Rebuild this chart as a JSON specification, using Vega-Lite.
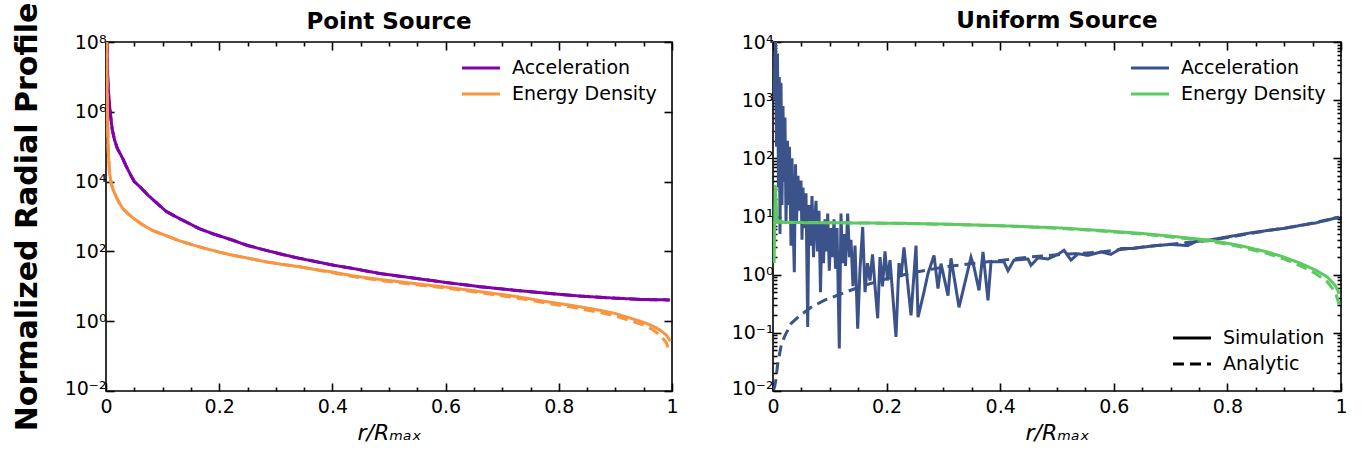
{
  "$schema": "https://vega.github.io/schema/vega-lite/v6.json",
  "padding": {"left": 11, "top": 1, "right": 6, "bottom": 2},
  "config": {
    "font": "DejaVu Sans",
    "view": {"stroke": "black", "strokeWidth": 1.6},
    "axis": {"domain": false, "grid": false, "tickColor": "black", "tickWidth": 1.6, "labelColor": "black", "labelFontSize": 19, "labelFont": "DejaVu Sans", "titleColor": "black", "titleFont": "DejaVu Sans", "labelOverlap": false, "labelFlush": false, "labelBound": false},
    "legend": {"labelFontSize": 19, "labelFont": "DejaVu Sans", "labelColor": "black", "symbolType": "stroke", "symbolSize": 1450, "symbolStrokeWidth": 2.8, "clipHeight": 22, "rowPadding": 4, "labelOffset": 10, "padding": 0},
    "title": {"fontSize": 23, "fontWeight": "bold", "color": "black", "font": "DejaVu Sans"},
    "line": {"strokeWidth": 3}
  },
  "datasets": {
    "left": [
      {"r":0.0015,"v":1e8,"q":"Acceleration","k":"Simulation"},
      {"r":0.003,"v":1e7,"q":"Acceleration","k":"Simulation"},
      {"r":0.005,"v":2.51e6,"q":"Acceleration","k":"Simulation"},
      {"r":0.008,"v":7.94e5,"q":"Acceleration","k":"Simulation"},
      {"r":0.011,"v":3.16e5,"q":"Acceleration","k":"Simulation"},
      {"r":0.015,"v":1.58e5,"q":"Acceleration","k":"Simulation"},
      {"r":0.02,"v":8.91e4,"q":"Acceleration","k":"Simulation"},
      {"r":0.029,"v":4.79e4,"q":"Acceleration","k":"Simulation"},
      {"r":0.035,"v":2.9e4,"q":"Acceleration","k":"Simulation"},
      {"r":0.04,"v":2.0e4,"q":"Acceleration","k":"Simulation"},
      {"r":0.045,"v":1.4e4,"q":"Acceleration","k":"Simulation"},
      {"r":0.05,"v":1.0e4,"q":"Acceleration","k":"Simulation"},
      {"r":0.06,"v":7079,"q":"Acceleration","k":"Simulation"},
      {"r":0.075,"v":3981,"q":"Acceleration","k":"Simulation"},
      {"r":0.09,"v":2399,"q":"Acceleration","k":"Simulation"},
      {"r":0.106,"v":1413,"q":"Acceleration","k":"Simulation"},
      {"r":0.125,"v":955,"q":"Acceleration","k":"Simulation"},
      {"r":0.147,"v":631,"q":"Acceleration","k":"Simulation"},
      {"r":0.165,"v":447,"q":"Acceleration","k":"Simulation"},
      {"r":0.19,"v":316,"q":"Acceleration","k":"Simulation"},
      {"r":0.224,"v":209,"q":"Acceleration","k":"Simulation"},
      {"r":0.25,"v":148,"q":"Acceleration","k":"Simulation"},
      {"r":0.283,"v":107,"q":"Acceleration","k":"Simulation"},
      {"r":0.31,"v":83.2,"q":"Acceleration","k":"Simulation"},
      {"r":0.342,"v":63.1,"q":"Acceleration","k":"Simulation"},
      {"r":0.37,"v":51.3,"q":"Acceleration","k":"Simulation"},
      {"r":0.4,"v":40.7,"q":"Acceleration","k":"Simulation"},
      {"r":0.44,"v":31.6,"q":"Acceleration","k":"Simulation"},
      {"r":0.483,"v":23.4,"q":"Acceleration","k":"Simulation"},
      {"r":0.519,"v":19.5,"q":"Acceleration","k":"Simulation"},
      {"r":0.56,"v":15.8,"q":"Acceleration","k":"Simulation"},
      {"r":0.6,"v":12.9,"q":"Acceleration","k":"Simulation"},
      {"r":0.66,"v":9.77,"q":"Acceleration","k":"Simulation"},
      {"r":0.72,"v":7.76,"q":"Acceleration","k":"Simulation"},
      {"r":0.78,"v":6.31,"q":"Acceleration","k":"Simulation"},
      {"r":0.837,"v":5.25,"q":"Acceleration","k":"Simulation"},
      {"r":0.9,"v":4.57,"q":"Acceleration","k":"Simulation"},
      {"r":0.95,"v":4.17,"q":"Acceleration","k":"Simulation"},
      {"r":0.996,"v":4.07,"q":"Acceleration","k":"Simulation"},
      {"r":0.0015,"v":1e8,"q":"Acceleration","k":"Analytic"},
      {"r":0.003,"v":1e7,"q":"Acceleration","k":"Analytic"},
      {"r":0.005,"v":2.51e6,"q":"Acceleration","k":"Analytic"},
      {"r":0.008,"v":7.94e5,"q":"Acceleration","k":"Analytic"},
      {"r":0.011,"v":3.16e5,"q":"Acceleration","k":"Analytic"},
      {"r":0.015,"v":1.58e5,"q":"Acceleration","k":"Analytic"},
      {"r":0.02,"v":8.91e4,"q":"Acceleration","k":"Analytic"},
      {"r":0.029,"v":4.79e4,"q":"Acceleration","k":"Analytic"},
      {"r":0.035,"v":2.9e4,"q":"Acceleration","k":"Analytic"},
      {"r":0.04,"v":2.0e4,"q":"Acceleration","k":"Analytic"},
      {"r":0.045,"v":1.4e4,"q":"Acceleration","k":"Analytic"},
      {"r":0.05,"v":1.0e4,"q":"Acceleration","k":"Analytic"},
      {"r":0.06,"v":7079,"q":"Acceleration","k":"Analytic"},
      {"r":0.075,"v":3981,"q":"Acceleration","k":"Analytic"},
      {"r":0.09,"v":2399,"q":"Acceleration","k":"Analytic"},
      {"r":0.106,"v":1413,"q":"Acceleration","k":"Analytic"},
      {"r":0.125,"v":955,"q":"Acceleration","k":"Analytic"},
      {"r":0.147,"v":631,"q":"Acceleration","k":"Analytic"},
      {"r":0.165,"v":447,"q":"Acceleration","k":"Analytic"},
      {"r":0.19,"v":316,"q":"Acceleration","k":"Analytic"},
      {"r":0.224,"v":209,"q":"Acceleration","k":"Analytic"},
      {"r":0.25,"v":148,"q":"Acceleration","k":"Analytic"},
      {"r":0.283,"v":107,"q":"Acceleration","k":"Analytic"},
      {"r":0.31,"v":83.2,"q":"Acceleration","k":"Analytic"},
      {"r":0.342,"v":63.1,"q":"Acceleration","k":"Analytic"},
      {"r":0.37,"v":51.3,"q":"Acceleration","k":"Analytic"},
      {"r":0.4,"v":40.7,"q":"Acceleration","k":"Analytic"},
      {"r":0.44,"v":31.6,"q":"Acceleration","k":"Analytic"},
      {"r":0.483,"v":23.4,"q":"Acceleration","k":"Analytic"},
      {"r":0.519,"v":19.5,"q":"Acceleration","k":"Analytic"},
      {"r":0.56,"v":15.8,"q":"Acceleration","k":"Analytic"},
      {"r":0.6,"v":12.9,"q":"Acceleration","k":"Analytic"},
      {"r":0.66,"v":9.77,"q":"Acceleration","k":"Analytic"},
      {"r":0.72,"v":7.76,"q":"Acceleration","k":"Analytic"},
      {"r":0.78,"v":6.31,"q":"Acceleration","k":"Analytic"},
      {"r":0.837,"v":5.25,"q":"Acceleration","k":"Analytic"},
      {"r":0.9,"v":4.57,"q":"Acceleration","k":"Analytic"},
      {"r":0.95,"v":4.17,"q":"Acceleration","k":"Analytic"},
      {"r":0.996,"v":4.07,"q":"Acceleration","k":"Analytic"},
      {"r":0.001,"v":1e8,"q":"Energy Density","k":"Simulation"},
      {"r":0.002,"v":3.16e6,"q":"Energy Density","k":"Simulation"},
      {"r":0.003,"v":3.16e5,"q":"Energy Density","k":"Simulation"},
      {"r":0.004,"v":7.94e4,"q":"Energy Density","k":"Simulation"},
      {"r":0.006,"v":2.0e4,"q":"Energy Density","k":"Simulation"},
      {"r":0.009,"v":8913,"q":"Energy Density","k":"Simulation"},
      {"r":0.013,"v":5623,"q":"Energy Density","k":"Simulation"},
      {"r":0.017,"v":3981,"q":"Energy Density","k":"Simulation"},
      {"r":0.023,"v":2512,"q":"Energy Density","k":"Simulation"},
      {"r":0.03,"v":1660,"q":"Energy Density","k":"Simulation"},
      {"r":0.041,"v":1122,"q":"Energy Density","k":"Simulation"},
      {"r":0.05,"v":851,"q":"Energy Density","k":"Simulation"},
      {"r":0.065,"v":575,"q":"Energy Density","k":"Simulation"},
      {"r":0.082,"v":398,"q":"Energy Density","k":"Simulation"},
      {"r":0.105,"v":288,"q":"Energy Density","k":"Simulation"},
      {"r":0.13,"v":200,"q":"Energy Density","k":"Simulation"},
      {"r":0.165,"v":135,"q":"Energy Density","k":"Simulation"},
      {"r":0.2,"v":95.5,"q":"Energy Density","k":"Simulation"},
      {"r":0.224,"v":77.6,"q":"Energy Density","k":"Simulation"},
      {"r":0.25,"v":64.6,"q":"Energy Density","k":"Simulation"},
      {"r":0.283,"v":50.1,"q":"Energy Density","k":"Simulation"},
      {"r":0.31,"v":42.7,"q":"Energy Density","k":"Simulation"},
      {"r":0.342,"v":36.3,"q":"Energy Density","k":"Simulation"},
      {"r":0.37,"v":30.2,"q":"Energy Density","k":"Simulation"},
      {"r":0.4,"v":25.7,"q":"Energy Density","k":"Simulation"},
      {"r":0.44,"v":19.5,"q":"Energy Density","k":"Simulation"},
      {"r":0.483,"v":15.8,"q":"Energy Density","k":"Simulation"},
      {"r":0.519,"v":13.5,"q":"Energy Density","k":"Simulation"},
      {"r":0.56,"v":11.2,"q":"Energy Density","k":"Simulation"},
      {"r":0.6,"v":9.55,"q":"Energy Density","k":"Simulation"},
      {"r":0.66,"v":7.08,"q":"Energy Density","k":"Simulation"},
      {"r":0.72,"v":5.25,"q":"Energy Density","k":"Simulation"},
      {"r":0.778,"v":3.63,"q":"Energy Density","k":"Simulation"},
      {"r":0.82,"v":2.88,"q":"Energy Density","k":"Simulation"},
      {"r":0.867,"v":2.14,"q":"Energy Density","k":"Simulation"},
      {"r":0.9,"v":1.66,"q":"Energy Density","k":"Simulation"},
      {"r":0.926,"v":1.23,"q":"Energy Density","k":"Simulation"},
      {"r":0.95,"v":0.93,"q":"Energy Density","k":"Simulation"},
      {"r":0.967,"v":0.71,"q":"Energy Density","k":"Simulation"},
      {"r":0.98,"v":0.54,"q":"Energy Density","k":"Simulation"},
      {"r":0.99,"v":0.40,"q":"Energy Density","k":"Simulation"},
      {"r":0.997,"v":0.27,"q":"Energy Density","k":"Simulation"},
      {"r":0.001,"v":1e8,"q":"Energy Density","k":"Analytic"},
      {"r":0.002,"v":3.16e6,"q":"Energy Density","k":"Analytic"},
      {"r":0.003,"v":3.16e5,"q":"Energy Density","k":"Analytic"},
      {"r":0.004,"v":7.94e4,"q":"Energy Density","k":"Analytic"},
      {"r":0.006,"v":2.0e4,"q":"Energy Density","k":"Analytic"},
      {"r":0.009,"v":8913,"q":"Energy Density","k":"Analytic"},
      {"r":0.013,"v":5623,"q":"Energy Density","k":"Analytic"},
      {"r":0.017,"v":3981,"q":"Energy Density","k":"Analytic"},
      {"r":0.023,"v":2512,"q":"Energy Density","k":"Analytic"},
      {"r":0.03,"v":1660,"q":"Energy Density","k":"Analytic"},
      {"r":0.041,"v":1122,"q":"Energy Density","k":"Analytic"},
      {"r":0.05,"v":851,"q":"Energy Density","k":"Analytic"},
      {"r":0.065,"v":575,"q":"Energy Density","k":"Analytic"},
      {"r":0.082,"v":398,"q":"Energy Density","k":"Analytic"},
      {"r":0.105,"v":288,"q":"Energy Density","k":"Analytic"},
      {"r":0.13,"v":200,"q":"Energy Density","k":"Analytic"},
      {"r":0.165,"v":135,"q":"Energy Density","k":"Analytic"},
      {"r":0.2,"v":95.5,"q":"Energy Density","k":"Analytic"},
      {"r":0.224,"v":77.6,"q":"Energy Density","k":"Analytic"},
      {"r":0.25,"v":64.6,"q":"Energy Density","k":"Analytic"},
      {"r":0.283,"v":50.1,"q":"Energy Density","k":"Analytic"},
      {"r":0.31,"v":42.7,"q":"Energy Density","k":"Analytic"},
      {"r":0.342,"v":36.3,"q":"Energy Density","k":"Analytic"},
      {"r":0.37,"v":30.2,"q":"Energy Density","k":"Analytic"},
      {"r":0.4,"v":24.5,"q":"Energy Density","k":"Analytic"},
      {"r":0.44,"v":18.6,"q":"Energy Density","k":"Analytic"},
      {"r":0.483,"v":14.8,"q":"Energy Density","k":"Analytic"},
      {"r":0.519,"v":12.6,"q":"Energy Density","k":"Analytic"},
      {"r":0.56,"v":10.5,"q":"Energy Density","k":"Analytic"},
      {"r":0.6,"v":8.91,"q":"Energy Density","k":"Analytic"},
      {"r":0.66,"v":6.61,"q":"Energy Density","k":"Analytic"},
      {"r":0.72,"v":4.79,"q":"Energy Density","k":"Analytic"},
      {"r":0.778,"v":3.31,"q":"Energy Density","k":"Analytic"},
      {"r":0.82,"v":2.57,"q":"Energy Density","k":"Analytic"},
      {"r":0.867,"v":1.86,"q":"Energy Density","k":"Analytic"},
      {"r":0.9,"v":1.41,"q":"Energy Density","k":"Analytic"},
      {"r":0.926,"v":1.05,"q":"Energy Density","k":"Analytic"},
      {"r":0.95,"v":0.78,"q":"Energy Density","k":"Analytic"},
      {"r":0.967,"v":0.56,"q":"Energy Density","k":"Analytic"},
      {"r":0.98,"v":0.38,"q":"Energy Density","k":"Analytic"},
      {"r":0.99,"v":0.24,"q":"Energy Density","k":"Analytic"},
      {"r":0.996,"v":0.126,"q":"Energy Density","k":"Analytic"}
    ],
    "right": [
      {"r":0.0018,"v":1000,"q":"Acceleration","k":"Simulation"},
      {"r":0.0044,"v":10000,"q":"Acceleration","k":"Simulation"},
      {"r":0.0062,"v":158,"q":"Acceleration","k":"Simulation"},
      {"r":0.0079,"v":6310,"q":"Acceleration","k":"Simulation"},
      {"r":0.0097,"v":31.6,"q":"Acceleration","k":"Simulation"},
      {"r":0.0111,"v":2512,"q":"Acceleration","k":"Simulation"},
      {"r":0.0123,"v":5.01,"q":"Acceleration","k":"Simulation"},
      {"r":0.0141,"v":1995,"q":"Acceleration","k":"Simulation"},
      {"r":0.0158,"v":15.8,"q":"Acceleration","k":"Simulation"},
      {"r":0.0176,"v":794,"q":"Acceleration","k":"Simulation"},
      {"r":0.0194,"v":39.8,"q":"Acceleration","k":"Simulation"},
      {"r":0.0211,"v":501,"q":"Acceleration","k":"Simulation"},
      {"r":0.0229,"v":7.94,"q":"Acceleration","k":"Simulation"},
      {"r":0.0255,"v":200,"q":"Acceleration","k":"Simulation"},
      {"r":0.0273,"v":15.8,"q":"Acceleration","k":"Simulation"},
      {"r":0.029,"v":158,"q":"Acceleration","k":"Simulation"},
      {"r":0.0317,"v":3.16,"q":"Acceleration","k":"Simulation"},
      {"r":0.0335,"v":100,"q":"Acceleration","k":"Simulation"},
      {"r":0.0352,"v":10,"q":"Acceleration","k":"Simulation"},
      {"r":0.0375,"v":1.1,"q":"Acceleration","k":"Simulation"},
      {"r":0.0396,"v":79.4,"q":"Acceleration","k":"Simulation"},
      {"r":0.0414,"v":7.94,"q":"Acceleration","k":"Simulation"},
      {"r":0.044,"v":50.1,"q":"Acceleration","k":"Simulation"},
      {"r":0.0458,"v":12.6,"q":"Acceleration","k":"Simulation"},
      {"r":0.0493,"v":41.7,"q":"Acceleration","k":"Simulation"},
      {"r":0.0511,"v":3.98,"q":"Acceleration","k":"Simulation"},
      {"r":0.0528,"v":31.6,"q":"Acceleration","k":"Simulation"},
      {"r":0.0555,"v":6.31,"q":"Acceleration","k":"Simulation"},
      {"r":0.0581,"v":25.1,"q":"Acceleration","k":"Simulation"},
      {"r":0.0611,"v":0.126,"q":"Acceleration","k":"Simulation"},
      {"r":0.0634,"v":15.8,"q":"Acceleration","k":"Simulation"},
      {"r":0.066,"v":3.16,"q":"Acceleration","k":"Simulation"},
      {"r":0.0687,"v":22.4,"q":"Acceleration","k":"Simulation"},
      {"r":0.0713,"v":2.0,"q":"Acceleration","k":"Simulation"},
      {"r":0.0739,"v":10,"q":"Acceleration","k":"Simulation"},
      {"r":0.0757,"v":18.6,"q":"Acceleration","k":"Simulation"},
      {"r":0.0783,"v":2.51,"q":"Acceleration","k":"Simulation"},
      {"r":0.081,"v":12.6,"q":"Acceleration","k":"Simulation"},
      {"r":0.0836,"v":0.501,"q":"Acceleration","k":"Simulation"},
      {"r":0.0863,"v":7.94,"q":"Acceleration","k":"Simulation"},
      {"r":0.0889,"v":1.58,"q":"Acceleration","k":"Simulation"},
      {"r":0.0915,"v":8.91,"q":"Acceleration","k":"Simulation"},
      {"r":0.0942,"v":2.51,"q":"Acceleration","k":"Simulation"},
      {"r":0.0963,"v":11.2,"q":"Acceleration","k":"Simulation"},
      {"r":0.0991,"v":1.17,"q":"Acceleration","k":"Simulation"},
      {"r":0.1021,"v":6.31,"q":"Acceleration","k":"Simulation"},
      {"r":0.1048,"v":2.0,"q":"Acceleration","k":"Simulation"},
      {"r":0.1074,"v":8.91,"q":"Acceleration","k":"Simulation"},
      {"r":0.11,"v":1.26,"q":"Acceleration","k":"Simulation"},
      {"r":0.1127,"v":6.31,"q":"Acceleration","k":"Simulation"},
      {"r":0.1167,"v":0.0537,"q":"Acceleration","k":"Simulation"},
      {"r":0.1197,"v":11.2,"q":"Acceleration","k":"Simulation"},
      {"r":0.1224,"v":1.58,"q":"Acceleration","k":"Simulation"},
      {"r":0.125,"v":5.01,"q":"Acceleration","k":"Simulation"},
      {"r":0.1276,"v":1.41,"q":"Acceleration","k":"Simulation"},
      {"r":0.1315,"v":11.2,"q":"Acceleration","k":"Simulation"},
      {"r":0.1347,"v":2.0,"q":"Acceleration","k":"Simulation"},
      {"r":0.1373,"v":3.98,"q":"Acceleration","k":"Simulation"},
      {"r":0.1408,"v":0.631,"q":"Acceleration","k":"Simulation"},
      {"r":0.1444,"v":3.16,"q":"Acceleration","k":"Simulation"},
      {"r":0.1491,"v":0.1175,"q":"Acceleration","k":"Simulation"},
      {"r":0.1532,"v":1.26,"q":"Acceleration","k":"Simulation"},
      {"r":0.1579,"v":6.61,"q":"Acceleration","k":"Simulation"},
      {"r":0.162,"v":0.501,"q":"Acceleration","k":"Simulation"},
      {"r":0.1664,"v":1.58,"q":"Acceleration","k":"Simulation"},
      {"r":0.1708,"v":0.794,"q":"Acceleration","k":"Simulation"},
      {"r":0.1752,"v":2.24,"q":"Acceleration","k":"Simulation"},
      {"r":0.1796,"v":0.631,"q":"Acceleration","k":"Simulation"},
      {"r":0.1843,"v":0.178,"q":"Acceleration","k":"Simulation"},
      {"r":0.1884,"v":2.0,"q":"Acceleration","k":"Simulation"},
      {"r":0.1928,"v":0.631,"q":"Acceleration","k":"Simulation"},
      {"r":0.1972,"v":2.51,"q":"Acceleration","k":"Simulation"},
      {"r":0.2016,"v":0.794,"q":"Acceleration","k":"Simulation"},
      {"r":0.206,"v":1.78,"q":"Acceleration","k":"Simulation"},
      {"r":0.2104,"v":0.501,"q":"Acceleration","k":"Simulation"},
      {"r":0.2165,"v":0.0851,"q":"Acceleration","k":"Simulation"},
      {"r":0.2218,"v":1.58,"q":"Acceleration","k":"Simulation"},
      {"r":0.2254,"v":0.912,"q":"Acceleration","k":"Simulation"},
      {"r":0.2306,"v":2.95,"q":"Acceleration","k":"Simulation"},
      {"r":0.243,"v":0.1995,"q":"Acceleration","k":"Simulation"},
      {"r":0.2518,"v":3.16,"q":"Acceleration","k":"Simulation"},
      {"r":0.2553,"v":0.186,"q":"Acceleration","k":"Simulation"},
      {"r":0.2658,"v":0.501,"q":"Acceleration","k":"Simulation"},
      {"r":0.2729,"v":1.05,"q":"Acceleration","k":"Simulation"},
      {"r":0.2835,"v":2.14,"q":"Acceleration","k":"Simulation"},
      {"r":0.2905,"v":0.575,"q":"Acceleration","k":"Simulation"},
      {"r":0.2958,"v":1.55,"q":"Acceleration","k":"Simulation"},
      {"r":0.3081,"v":0.437,"q":"Acceleration","k":"Simulation"},
      {"r":0.3134,"v":1.91,"q":"Acceleration","k":"Simulation"},
      {"r":0.3275,"v":0.275,"q":"Acceleration","k":"Simulation"},
      {"r":0.3486,"v":2.0,"q":"Acceleration","k":"Simulation"},
      {"r":0.3539,"v":1.35,"q":"Acceleration","k":"Simulation"},
      {"r":0.3627,"v":0.537,"q":"Acceleration","k":"Simulation"},
      {"r":0.3697,"v":2.46,"q":"Acceleration","k":"Simulation"},
      {"r":0.3785,"v":0.363,"q":"Acceleration","k":"Simulation"},
      {"r":0.3838,"v":1.66,"q":"Acceleration","k":"Simulation"},
      {"r":0.4067,"v":1.66,"q":"Acceleration","k":"Simulation"},
      {"r":0.4137,"v":1.17,"q":"Acceleration","k":"Simulation"},
      {"r":0.4243,"v":1.78,"q":"Acceleration","k":"Simulation"},
      {"r":0.4489,"v":1.86,"q":"Acceleration","k":"Simulation"},
      {"r":0.4542,"v":1.45,"q":"Acceleration","k":"Simulation"},
      {"r":0.4665,"v":1.95,"q":"Acceleration","k":"Simulation"},
      {"r":0.4842,"v":1.86,"q":"Acceleration","k":"Simulation"},
      {"r":0.5018,"v":2.24,"q":"Acceleration","k":"Simulation"},
      {"r":0.5123,"v":2.63,"q":"Acceleration","k":"Simulation"},
      {"r":0.5246,"v":1.78,"q":"Acceleration","k":"Simulation"},
      {"r":0.537,"v":2.29,"q":"Acceleration","k":"Simulation"},
      {"r":0.5546,"v":2.14,"q":"Acceleration","k":"Simulation"},
      {"r":0.5775,"v":2.46,"q":"Acceleration","k":"Simulation"},
      {"r":0.5951,"v":2.24,"q":"Acceleration","k":"Simulation"},
      {"r":0.6127,"v":2.82,"q":"Acceleration","k":"Simulation"},
      {"r":0.6356,"v":2.82,"q":"Acceleration","k":"Simulation"},
      {"r":0.6479,"v":2.95,"q":"Acceleration","k":"Simulation"},
      {"r":0.6743,"v":3.16,"q":"Acceleration","k":"Simulation"},
      {"r":0.7007,"v":3.31,"q":"Acceleration","k":"Simulation"},
      {"r":0.7301,"v":3.16,"q":"Acceleration","k":"Simulation"},
      {"r":0.7447,"v":3.72,"q":"Acceleration","k":"Simulation"},
      {"r":0.7711,"v":3.98,"q":"Acceleration","k":"Simulation"},
      {"r":0.8063,"v":4.57,"q":"Acceleration","k":"Simulation"},
      {"r":0.8415,"v":5.25,"q":"Acceleration","k":"Simulation"},
      {"r":0.871,"v":5.75,"q":"Acceleration","k":"Simulation"},
      {"r":0.9032,"v":6.31,"q":"Acceleration","k":"Simulation"},
      {"r":0.9296,"v":7.08,"q":"Acceleration","k":"Simulation"},
      {"r":0.956,"v":7.76,"q":"Acceleration","k":"Simulation"},
      {"r":0.9766,"v":8.71,"q":"Acceleration","k":"Simulation"},
      {"r":0.9965,"v":9.77,"q":"Acceleration","k":"Simulation"},
      {"r":0.001,"v":0.0105,"q":"Acceleration","k":"Analytic"},
      {"r":0.003,"v":0.012,"q":"Acceleration","k":"Analytic"},
      {"r":0.005,"v":0.0155,"q":"Acceleration","k":"Analytic"},
      {"r":0.008,"v":0.028,"q":"Acceleration","k":"Analytic"},
      {"r":0.014,"v":0.058,"q":"Acceleration","k":"Analytic"},
      {"r":0.02,"v":0.085,"q":"Acceleration","k":"Analytic"},
      {"r":0.032,"v":0.145,"q":"Acceleration","k":"Analytic"},
      {"r":0.045,"v":0.19,"q":"Acceleration","k":"Analytic"},
      {"r":0.067,"v":0.275,"q":"Acceleration","k":"Analytic"},
      {"r":0.09,"v":0.36,"q":"Acceleration","k":"Analytic"},
      {"r":0.12,"v":0.47,"q":"Acceleration","k":"Analytic"},
      {"r":0.16,"v":0.65,"q":"Acceleration","k":"Analytic"},
      {"r":0.2,"v":0.85,"q":"Acceleration","k":"Analytic"},
      {"r":0.25,"v":1.1,"q":"Acceleration","k":"Analytic"},
      {"r":0.3,"v":1.35,"q":"Acceleration","k":"Analytic"},
      {"r":0.35,"v":1.55,"q":"Acceleration","k":"Analytic"},
      {"r":0.4,"v":1.76,"q":"Acceleration","k":"Analytic"},
      {"r":0.45,"v":2.0,"q":"Acceleration","k":"Analytic"},
      {"r":0.5,"v":2.2,"q":"Acceleration","k":"Analytic"},
      {"r":0.577,"v":2.45,"q":"Acceleration","k":"Analytic"},
      {"r":0.648,"v":2.97,"q":"Acceleration","k":"Analytic"},
      {"r":0.7,"v":3.35,"q":"Acceleration","k":"Analytic"},
      {"r":0.771,"v":3.9,"q":"Acceleration","k":"Analytic"},
      {"r":0.82,"v":4.7,"q":"Acceleration","k":"Analytic"},
      {"r":0.871,"v":5.75,"q":"Acceleration","k":"Analytic"},
      {"r":0.93,"v":7.0,"q":"Acceleration","k":"Analytic"},
      {"r":0.976,"v":8.8,"q":"Acceleration","k":"Analytic"},
      {"r":0.997,"v":9.6,"q":"Acceleration","k":"Analytic"},
      {"r":0.002,"v":1.58,"q":"Energy Density","k":"Simulation"},
      {"r":0.004,"v":35,"q":"Energy Density","k":"Simulation"},
      {"r":0.007,"v":8.5,"q":"Energy Density","k":"Simulation"},
      {"r":0.02,"v":7.9,"q":"Energy Density","k":"Simulation"},
      {"r":0.05,"v":7.85,"q":"Energy Density","k":"Simulation"},
      {"r":0.1,"v":7.8,"q":"Energy Density","k":"Simulation"},
      {"r":0.15,"v":7.75,"q":"Energy Density","k":"Simulation"},
      {"r":0.225,"v":7.65,"q":"Energy Density","k":"Simulation"},
      {"r":0.3,"v":7.4,"q":"Energy Density","k":"Simulation"},
      {"r":0.4,"v":6.95,"q":"Energy Density","k":"Simulation"},
      {"r":0.5,"v":6.4,"q":"Energy Density","k":"Simulation"},
      {"r":0.577,"v":5.75,"q":"Energy Density","k":"Simulation"},
      {"r":0.648,"v":5.13,"q":"Energy Density","k":"Simulation"},
      {"r":0.7,"v":4.6,"q":"Energy Density","k":"Simulation"},
      {"r":0.771,"v":3.89,"q":"Energy Density","k":"Simulation"},
      {"r":0.82,"v":3.2,"q":"Energy Density","k":"Simulation"},
      {"r":0.871,"v":2.45,"q":"Energy Density","k":"Simulation"},
      {"r":0.9,"v":2.0,"q":"Energy Density","k":"Simulation"},
      {"r":0.93,"v":1.55,"q":"Energy Density","k":"Simulation"},
      {"r":0.955,"v":1.2,"q":"Energy Density","k":"Simulation"},
      {"r":0.976,"v":0.91,"q":"Energy Density","k":"Simulation"},
      {"r":0.99,"v":0.65,"q":"Energy Density","k":"Simulation"},
      {"r":0.997,"v":0.47,"q":"Energy Density","k":"Simulation"},
      {"r":0.001,"v":8.0,"q":"Energy Density","k":"Analytic"},
      {"r":0.05,"v":7.9,"q":"Energy Density","k":"Analytic"},
      {"r":0.1,"v":7.82,"q":"Energy Density","k":"Analytic"},
      {"r":0.2,"v":7.65,"q":"Energy Density","k":"Analytic"},
      {"r":0.3,"v":7.35,"q":"Energy Density","k":"Analytic"},
      {"r":0.4,"v":6.9,"q":"Energy Density","k":"Analytic"},
      {"r":0.5,"v":6.3,"q":"Energy Density","k":"Analytic"},
      {"r":0.577,"v":5.65,"q":"Energy Density","k":"Analytic"},
      {"r":0.648,"v":5.0,"q":"Energy Density","k":"Analytic"},
      {"r":0.7,"v":4.45,"q":"Energy Density","k":"Analytic"},
      {"r":0.771,"v":3.75,"q":"Energy Density","k":"Analytic"},
      {"r":0.82,"v":3.05,"q":"Energy Density","k":"Analytic"},
      {"r":0.871,"v":2.3,"q":"Energy Density","k":"Analytic"},
      {"r":0.9,"v":1.85,"q":"Energy Density","k":"Analytic"},
      {"r":0.93,"v":1.4,"q":"Energy Density","k":"Analytic"},
      {"r":0.955,"v":1.05,"q":"Energy Density","k":"Analytic"},
      {"r":0.976,"v":0.75,"q":"Energy Density","k":"Analytic"},
      {"r":0.99,"v":0.5,"q":"Energy Density","k":"Analytic"},
      {"r":0.997,"v":0.3,"q":"Energy Density","k":"Analytic"}
    ]
  },
  "spacing": 51,
  "resolve": {"scale": {"color": "independent", "strokeDash": "independent", "x": "independent", "y": "independent"}, "legend": {"color": "independent", "strokeDash": "independent"}},
  "hconcat": [
    {
      "width": 566,
      "height": 349,
      "title": {"text": "Point Source", "offset": -32},
      "data": {"name": "left"},
      "layer": [
        {
          "mark": {"type": "line", "clip": true},
          "encoding": {
            "x": {"field": "r", "type": "quantitative", "scale": {"domain": [0, 1], "nice": false},
              "axis": {"orient": "bottom", "values": [0,0.05,0.1,0.15,0.2,0.25,0.3,0.35,0.4,0.45,0.5,0.55,0.6,0.65,0.7,0.75,0.8,0.85,0.9,0.95,1],
                "labelExpr": "abs(datum.value*5 - round(datum.value*5)) < 0.001 ? format(datum.value, '~g') : ''",
                "tickSize": {"condition": {"test": "abs(datum.value*5 - round(datum.value*5)) < 0.001", "value": -8}, "value": -4},
                "labelPadding": 14, "title": "r/Rₘₐₓ", "titleFontSize": 22, "titleFontStyle": "italic", "titleFontWeight": "normal", "titlePadding": 2}},
            "y": {"field": "v", "type": "quantitative", "scale": {"type": "log", "domain": [0.01, 100000000], "nice": false},
              "axis": {"orient": "left", "values": [0.01, 1, 100, 10000, 1000000, 100000000],
                "labelExpr": "datum.value >= 1e7 ? '10⁸' : datum.value >= 1e5 ? '10⁶' : datum.value >= 1e3 ? '10⁴' : datum.value >= 10 ? '10²' : datum.value >= 0.1 ? '10⁰' : '10⁻²'",
                "labelOffset": {"condition": {"test": "datum.value < 0.1", "value": -3}, "value": 0},
                "tickSize": -8, "labelPadding": 8, "title": "Normalized Radial Profile", "titleFontSize": 30, "titleFontWeight": "bold", "titlePadding": 22}},
            "color": {"field": "q", "type": "nominal", "scale": {"domain": ["Acceleration", "Energy Density"], "range": ["#7e03a8", "#f89540"]}, "legend": {"orient": "top-right", "title": null, "offset": 15}},
            "strokeDash": {"field": "k", "type": "nominal", "scale": {"domain": ["Simulation", "Analytic"], "range": [[1, 0], [11, 6]]}, "legend": null}
          }
        },
        {
          "mark": {"type": "line", "opacity": 0},
          "encoding": {
            "x": {"field": "r", "type": "quantitative", "scale": {"domain": [0, 1], "nice": false},
              "axis": {"orient": "top", "labels": false, "title": null, "values": [0,0.05,0.1,0.15,0.2,0.25,0.3,0.35,0.4,0.45,0.5,0.55,0.6,0.65,0.7,0.75,0.8,0.85,0.9,0.95,1],
                "tickSize": {"condition": {"test": "abs(datum.value*5 - round(datum.value*5)) < 0.001", "value": -8}, "value": -4}}},
            "y": {"field": "v", "type": "quantitative", "scale": {"type": "log", "domain": [0.01, 100000000], "nice": false},
              "axis": {"orient": "right", "labels": false, "title": null, "values": [0.01, 1, 100, 10000, 1000000, 100000000], "tickSize": -8}},
            "detail": {"field": "q"}
          }
        }
      ],
      "resolve": {"axis": {"x": "independent", "y": "independent"}}
    },
    {
      "width": 568,
      "height": 349,
      "title": {"text": "Uniform Source", "offset": 0},
      "data": {"name": "right"},
      "layer": [
        {
          "mark": {"type": "line", "clip": true},
          "encoding": {
            "x": {"field": "r", "type": "quantitative", "scale": {"domain": [0, 1], "nice": false},
              "axis": {"orient": "bottom", "values": [0,0.05,0.1,0.15,0.2,0.25,0.3,0.35,0.4,0.45,0.5,0.55,0.6,0.65,0.7,0.75,0.8,0.85,0.9,0.95,1],
                "labelExpr": "abs(datum.value*5 - round(datum.value*5)) < 0.001 ? format(datum.value, '~g') : ''",
                "tickSize": {"condition": {"test": "abs(datum.value*5 - round(datum.value*5)) < 0.001", "value": -8}, "value": -4},
                "labelPadding": 14, "title": "r/Rₘₐₓ", "titleFontSize": 22, "titleFontStyle": "italic", "titleFontWeight": "normal", "titlePadding": 2}},
            "y": {"field": "v", "type": "quantitative", "scale": {"type": "log", "domain": [0.01, 10000], "nice": false},
              "axis": {"orient": "left", "values": [0.01,0.02,0.03,0.04,0.05,0.06,0.07,0.08,0.09,0.1,0.2,0.3,0.4,0.5,0.6,0.7,0.8,0.9,1,2,3,4,5,6,7,8,9,10,20,30,40,50,60,70,80,90,100,200,300,400,500,600,700,800,900,1000,2000,3000,4000,5000,6000,7000,8000,9000,10000],
                "labelExpr": "abs(log(datum.value)/LN10 - round(log(datum.value)/LN10)) > 0.001 ? '' : datum.value >= 5000 ? '10⁴' : datum.value >= 500 ? '10³' : datum.value >= 50 ? '10²' : datum.value >= 5 ? '10¹' : datum.value >= 0.5 ? '10⁰' : datum.value >= 0.05 ? '10⁻¹' : '10⁻²'",
                "labelOffset": {"condition": {"test": "datum.value < 0.015", "value": -3}, "value": 0},
                "tickSize": {"condition": {"test": "abs(log(datum.value)/LN10 - round(log(datum.value)/LN10)) < 0.001", "value": -8}, "value": -4},
                "labelPadding": 8, "title": null}},
            "color": {"field": "q", "type": "nominal", "scale": {"domain": ["Acceleration", "Energy Density"], "range": ["#3b528b", "#5ec962"]}, "legend": {"orient": "top-right", "title": null, "offset": 15}},
            "strokeDash": {"field": "k", "type": "nominal", "scale": {"domain": ["Simulation", "Analytic"], "range": [[1, 0], [11, 6]]}, "legend": {"orient": "bottom-right", "title": null, "offset": 16, "symbolStrokeColor": "black"}}
          }
        },
        {
          "mark": {"type": "line", "opacity": 0},
          "encoding": {
            "x": {"field": "r", "type": "quantitative", "scale": {"domain": [0, 1], "nice": false},
              "axis": {"orient": "top", "labels": false, "title": null, "values": [0,0.05,0.1,0.15,0.2,0.25,0.3,0.35,0.4,0.45,0.5,0.55,0.6,0.65,0.7,0.75,0.8,0.85,0.9,0.95,1],
                "tickSize": {"condition": {"test": "abs(datum.value*5 - round(datum.value*5)) < 0.001", "value": -8}, "value": -4}}},
            "y": {"field": "v", "type": "quantitative", "scale": {"type": "log", "domain": [0.01, 10000], "nice": false},
              "axis": {"orient": "right", "labels": false, "title": null, "values": [0.01,0.02,0.03,0.04,0.05,0.06,0.07,0.08,0.09,0.1,0.2,0.3,0.4,0.5,0.6,0.7,0.8,0.9,1,2,3,4,5,6,7,8,9,10,20,30,40,50,60,70,80,90,100,200,300,400,500,600,700,800,900,1000,2000,3000,4000,5000,6000,7000,8000,9000,10000],
                "tickSize": {"condition": {"test": "abs(log(datum.value)/LN10 - round(log(datum.value)/LN10)) < 0.001", "value": -8}, "value": -4}}},
            "detail": {"field": "q"}
          }
        }
      ],
      "resolve": {"axis": {"x": "independent", "y": "independent"}}
    }
  ]
}
